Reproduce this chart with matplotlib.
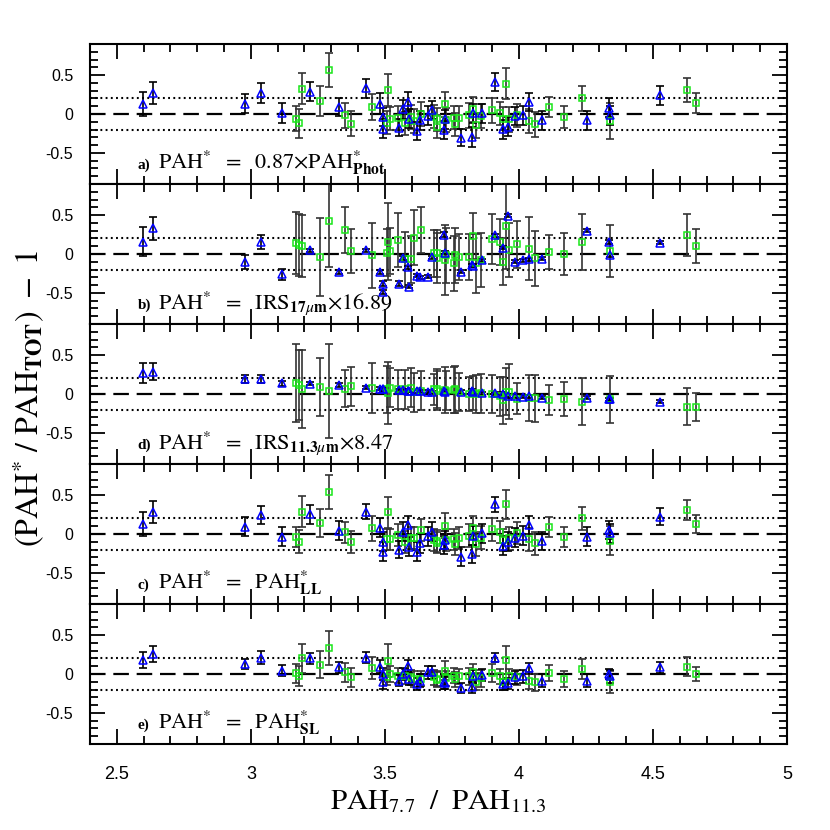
import matplotlib
matplotlib.use("Agg")
import matplotlib.pyplot as plt
import numpy as np
from matplotlib.ticker import MultipleLocator, FixedLocator

plt.rcParams['mathtext.fontset'] = 'stix'
plt.rcParams['font.family'] = ['Liberation Sans', 'DejaVu Sans']

# ---------------- data ----------------
blue_x = [2.599, 2.634, 2.980, 3.037, 3.115, 3.221, 3.327, 3.430, 3.480, 3.492,
          3.494, 3.554, 3.567, 3.585, 3.590, 3.619, 3.631, 3.662, 3.677, 3.721,
          3.725, 3.783, 3.824, 3.828, 3.861, 3.911, 3.940, 3.961, 3.986, 4.014,
          4.039, 4.085, 4.253, 4.337, 4.340, 4.527]
green_x = [3.168, 3.178, 3.192, 3.257, 3.292, 3.351, 3.374, 3.451, 3.507, 3.513,
           3.520, 3.550, 3.575, 3.597, 3.608, 3.636, 3.684, 3.693, 3.696, 3.725,
           3.727, 3.756, 3.762, 3.778, 3.815, 3.827, 3.841, 3.858, 3.899, 3.928,
           3.940, 3.952, 3.964, 3.994, 4.039, 4.060, 4.113, 4.169, 4.236, 4.340,
           4.626, 4.661]

# panel a
a_blue = [0.134, 0.266, 0.134, 0.266, 0.01, 0.288, 0.09, 0.33, 0.134, -0.04,
          -0.19, -0.175, 0.06, 0.16, -0.06, -0.22, -0.08, -0.02, 0.05, -0.205,
          -0.068, -0.304, -0.291, 0.009, 0.009, 0.411, -0.197, -0.163, -0.026, -0.017,
          0.154, -0.081, -0.081, 0.081, -0.017, 0.24]
a_blue_err = [0.155, 0.14, 0.12, 0.13, 0.125, 0.12, 0.12, 0.12, 0.13, 0.12,
              0.12, 0.11, 0.12, 0.12, 0.12, 0.12, 0.12, 0.12, 0.12, 0.12,
              0.12, 0.11, 0.13, 0.12, 0.12, 0.11, 0.12, 0.12, 0.12, 0.12,
              0.12, 0.12, 0.12, 0.12, 0.12, 0.12]
a_green = [-0.06, -0.12, 0.326, 0.167, 0.566, -0.017, -0.124, 0.09, -0.11, 0.31,
           -0.06, -0.05, -0.12, -0.04, -0.09, 0.0, -0.034, -0.068, -0.163, 0.124,
           -0.077, -0.047, -0.133, -0.047, -0.017, 0.06, -0.145, -0.026, 0.047, 0.009,
           -0.06, 0.39, -0.068, -0.017, -0.09, -0.133, 0.094, -0.034, 0.202, -0.094,
           0.309, 0.137]
a_green_err = [0.16, 0.19, 0.2, 0.19, 0.22, 0.16, 0.16, 0.17, 0.15, 0.21,
               0.15, 0.15, 0.15, 0.15, 0.15, 0.15, 0.15, 0.15, 0.15, 0.16,
               0.15, 0.15, 0.15, 0.15, 0.16, 0.16, 0.16, 0.16, 0.16, 0.15,
               0.15, 0.2, 0.16, 0.15, 0.16, 0.16, 0.13, 0.14, 0.16, 0.23,
               0.15, 0.13]

# panel b
b_blue = [0.159, 0.33, -0.10, 0.154, -0.26, 0.047, -0.23, 0.05, -0.23, -0.38,
          -0.49, -0.38, -0.05, -0.17, -0.42, -0.28, -0.30, -0.29, -0.04, 0.25,
          0.017, -0.227, -0.146, -0.15, -0.08, 0.24, 0.08, 0.49, -0.10, -0.08,
          -0.07, -0.06, 0.30, 0.154, -0.017, 0.146]
b_blue_err = [0.19, 0.145, 0.09, 0.085, 0.07, 0.02, 0.03, 0.02, 0.03, 0.03,
              0.03, 0.03, 0.03, 0.02, 0.02, 0.02, 0.02, 0.02, 0.02, 0.03,
              0.02, 0.02, 0.02, 0.02, 0.02, 0.02, 0.02, 0.02, 0.02, 0.02,
              0.02, 0.02, 0.02, 0.02, 0.02, 0.02]
b_green = [0.146, 0.116, 0.10, -0.04, 0.43, 0.31, 0.04, -0.017, 0.017, 0.16,
           0.04, 0.18, -0.07, -0.07, 0.21, 0.31, 0.01, -0.056, 0.01, -0.077,
           -0.017, -0.12, -0.017, -0.04, -0.04, 0.23, -0.12, -0.08, 0.19, 0.154,
           -0.10, 0.36, 0.05, 0.124, 0.07, -0.056, 0.026, -0.004, 0.154, 0.04,
           0.244, 0.10]
b_green_err = [0.4, 0.4, 0.4, 0.5, 0.6, 0.3, 0.28, 0.42, 0.3, 0.5,
               0.3, 0.35, 0.35, 0.3, 0.35, 0.3, 0.3, 0.32, 0.3, 0.45,
               0.35, 0.35, 0.35, 0.3, 0.3, 0.3, 0.38, 0.35, 0.32, 0.3,
               0.3, 0.55, 0.35, 0.3, 0.4, 0.35, 0.22, 0.27, 0.36, 0.33,
               0.27, 0.22]

# panel d
d_blue = [0.266, 0.287, 0.19, 0.19, 0.137, 0.13, 0.116, 0.08, 0.07, 0.065,
          0.06, 0.05, 0.05, 0.045, 0.04, 0.035, 0.035, 0.03, 0.025, 0.04,
          0.026, 0.026, 0.04, 0.02, 0.01, 0.01, 0.0, -0.026, -0.026, -0.034,
          -0.03, -0.047, -0.047, -0.07, -0.065, -0.10]
d_blue_err = [0.13, 0.11, 0.05, 0.05, 0.03, 0.02, 0.02, 0.02, 0.02, 0.02,
              0.02, 0.02, 0.02, 0.02, 0.02, 0.02, 0.02, 0.02, 0.02, 0.02,
              0.02, 0.02, 0.02, 0.02, 0.02, 0.02, 0.02, 0.02, 0.02, 0.02,
              0.02, 0.02, 0.02, 0.02, 0.02, 0.02]
d_green = [0.137, 0.11, 0.06, 0.09, 0.04, 0.07, 0.10, 0.08, 0.06, 0.01,
           0.08, 0.06, 0.06, 0.08, 0.02, 0.04, 0.06, 0.07, 0.04, 0.05,
           0.04, 0.05, 0.06, 0.026, 0.0, 0.01, 0.0, 0.01, 0.0, -0.03,
           -0.08, 0.03, 0.03, -0.06, -0.05, -0.056, -0.077, -0.06, -0.10, -0.07,
           -0.163, -0.163]
d_green_err = [0.5, 0.45, 0.5, 0.37, 0.6, 0.24, 0.25, 0.32, 0.3, 0.4,
               0.25, 0.25, 0.25, 0.25, 0.25, 0.25, 0.2, 0.25, 0.25, 0.3,
               0.25, 0.3, 0.3, 0.25, 0.22, 0.22, 0.25, 0.25, 0.25, 0.25,
               0.3, 0.3, 0.35, 0.2, 0.3, 0.3, 0.19, 0.22, 0.3, 0.3,
               0.24, 0.18]

# panel c
c_blue = [0.129, 0.28, 0.094, 0.244, -0.034, 0.253, 0.043, 0.287, 0.08, -0.10,
          -0.227, -0.20, 0.03, 0.116, -0.163, -0.227, -0.12, -0.03, 0.03, -0.14,
          -0.077, -0.29, -0.257, -0.02, 0.01, 0.38, -0.15, -0.10, -0.047, -0.02,
          0.116, -0.09, -0.034, 0.05, 0.01, 0.22]
c_blue_err = [0.16, 0.14, 0.12, 0.12, 0.12, 0.12, 0.12, 0.1, 0.12, 0.12,
              0.12, 0.11, 0.12, 0.12, 0.12, 0.12, 0.12, 0.12, 0.12, 0.12,
              0.12, 0.12, 0.12, 0.12, 0.12, 0.1, 0.12, 0.12, 0.12, 0.12,
              0.12, 0.12, 0.12, 0.12, 0.12, 0.11]
c_green = [-0.034, -0.10, 0.287, 0.137, 0.544, 0.02, -0.10, 0.073, -0.07, 0.28,
           -0.07, -0.01, -0.10, -0.056, -0.047, 0.05, -0.077, -0.09, -0.11, 0.107,
           -0.077, -0.07, -0.13, -0.056, -0.02, 0.08, -0.13, -0.047, 0.06, 0.03,
           -0.077, 0.38, -0.056, 0.01, -0.07, -0.12, 0.086, -0.034, 0.2, -0.086,
           0.31, 0.129]
c_green_err = [0.13, 0.15, 0.2, 0.18, 0.22, 0.14, 0.14, 0.16, 0.14, 0.2,
               0.14, 0.14, 0.14, 0.14, 0.14, 0.14, 0.14, 0.14, 0.14, 0.16,
               0.14, 0.14, 0.14, 0.14, 0.15, 0.15, 0.15, 0.15, 0.15, 0.14,
               0.14, 0.19, 0.15, 0.14, 0.15, 0.15, 0.13, 0.13, 0.15, 0.19,
               0.13, 0.12]

# panel e
e_blue = [0.18, 0.257, 0.129, 0.21, 0.043, 0.2, 0.086, 0.21, 0.094, 0.0,
          -0.107, -0.086, 0.0, 0.1, -0.064, -0.13, -0.086, 0.02, 0.02, -0.107,
          -0.116, -0.18, -0.17, -0.03, -0.013, 0.21, -0.13, -0.12, -0.043, -0.03,
          0.073, -0.086, -0.086, 0.0, -0.03, 0.086]
e_blue_err = [0.1, 0.1, 0.07, 0.08, 0.07, 0.07, 0.07, 0.07, 0.08, 0.08,
              0.08, 0.07, 0.08, 0.08, 0.08, 0.08, 0.08, 0.08, 0.08, 0.08,
              0.08, 0.07, 0.07, 0.08, 0.08, 0.06, 0.07, 0.07, 0.08, 0.08,
              0.07, 0.08, 0.08, 0.07, 0.08, 0.07]
e_green = [0.01, -0.03, 0.2, 0.12, 0.33, 0.02, -0.043, 0.073, -0.043, 0.17,
           0.0, -0.02, -0.03, -0.043, -0.064, -0.06, -0.043, -0.073, -0.06, 0.043,
           -0.056, -0.02, -0.07, -0.03, -0.03, 0.02, -0.1, -0.056, 0.013, -0.03,
           -0.1, 0.18, -0.03, -0.043, -0.086, -0.107, 0.01, -0.064, 0.064, -0.1,
           0.094, 0.0]
e_green_err = [0.12, 0.13, 0.19, 0.17, 0.22, 0.12, 0.12, 0.14, 0.1, 0.21,
               0.1, 0.1, 0.1, 0.1, 0.1, 0.1, 0.1, 0.1, 0.1, 0.12,
               0.1, 0.1, 0.1, 0.1, 0.11, 0.11, 0.11, 0.11, 0.11, 0.1,
               0.1, 0.18, 0.1, 0.1, 0.11, 0.11, 0.1, 0.1, 0.13, 0.14,
               0.12, 0.09]

panel_letters = ['a)', 'b)', 'd)', 'c)', 'e)']
panel_formulas = [
    r'$\mathrm{PAH}^{*}\ \ =\ \ 0.87{\times}\mathrm{PAH}^{*}_{\mathbf{Phot}}$',
    r'$\mathrm{PAH}^{*}\ \ =\ \ \mathrm{IRS}_{\mathbf{17}\mu\mathbf{m}}{\times}16.89$',
    r'$\mathrm{PAH}^{*}\ \ =\ \ \mathrm{IRS}_{\mathbf{11.3}\mu\mathbf{m}}{\times}8.47$',
    r'$\mathrm{PAH}^{*}\ \ =\ \ \mathrm{PAH}^{*}_{\mathbf{LL}}$',
    r'$\mathrm{PAH}^{*}\ \ =\ \ \mathrm{PAH}^{*}_{\mathbf{SL}}$',
]
panels = [
    (a_blue, a_blue_err, a_green, a_green_err),
    (b_blue, b_blue_err, b_green, b_green_err),
    (d_blue, d_blue_err, d_green, d_green_err),
    (c_blue, c_blue_err, c_green, c_green_err),
    (e_blue, e_blue_err, e_green, e_green_err),
]
ytick_vals = [-0.5, 0, 0.5]
ytick_labels = ['-0.5', '0', '0.5']
xtick_vals = [2.5, 3, 3.5, 4, 4.5, 5]
xtick_labels = ['2.5', '3', '3.5', '4', '4.5', '5']

# ---------------- figure ----------------
W = 830.0
fig = plt.figure(figsize=(8.3, 8.3), dpi=100)
left_px, right_px, top_px, ph = 90, 787, 44, 140

BLUE = '#0000ff'
GREEN = '#19e619'

for i, (by, be, gy, ge) in enumerate(panels):
    y0 = 1 - (top_px + ph * (i + 1)) / W
    ax = fig.add_axes([left_px / W, y0, (right_px - left_px) / W, ph / W])
    ax.set_xlim(2.4, 5.0)
    ax.set_ylim(-0.9, 0.9)

    ax.axhline(0, color='black', lw=1.6, dashes=(7, 3.5), zorder=1)
    for v in (0.2, -0.2):
        ax.axhline(v, color='black', lw=1.5, dashes=(0.9, 1.6), zorder=1)

    ax.errorbar(green_x, gy, yerr=ge, fmt='none', ecolor='#333333',
                elinewidth=1.2, capsize=3, capthick=1.2, zorder=2)
    ax.errorbar(blue_x, by, yerr=be, fmt='none', ecolor='black',
                elinewidth=1.2, capsize=3, capthick=1.2, zorder=3)
    ax.plot(green_x, gy, ls='none', marker='s', ms=5, mfc='none',
            mec=GREEN, mew=1.1, zorder=4)
    ax.plot(blue_x, by, ls='none', marker='^', ms=5.5, mfc='none',
            mec=BLUE, mew=1.1, zorder=5)

    ax.xaxis.set_major_locator(FixedLocator(xtick_vals))
    ax.xaxis.set_minor_locator(MultipleLocator(0.1))
    ax.yaxis.set_major_locator(FixedLocator(ytick_vals))
    ax.yaxis.set_minor_locator(MultipleLocator(0.1))
    ax.tick_params(which='both', direction='in', top=True, right=True,
                   width=1.3)
    ax.tick_params(which='major', length=11)
    ax.tick_params(which='minor', length=6)
    ax.set_yticklabels(ytick_labels)
    ax.tick_params(axis='y', labelsize=11.5, pad=12)
    if i == len(panels) - 1:
        ax.set_xticklabels(xtick_labels)
        ax.tick_params(axis='x', labelsize=13, pad=16)
    else:
        ax.tick_params(axis='x', labelbottom=False)
    for s in ax.spines.values():
        s.set_linewidth(1.5)

    ax.text(2.578, -0.71, panel_letters[i], fontsize=11, fontweight='bold',
            family='Liberation Serif', va='baseline', ha='left')
    ax.text(2.652, -0.71, panel_formulas[i], fontsize=16, va='baseline',
            ha='left')

fig.text(0.035, 0.52, r'$(\mathrm{PAH}^{*}\ /\ \mathrm{PAH}_{\mathbf{TOT}})\ -\ 1$',
         rotation=90, fontsize=23, ha='center', va='center')
fig.text(0.528, 0.035, r'$\mathrm{PAH}_{7.7}\ \ /\ \ \mathrm{PAH}_{11.3}$',
         fontsize=21, ha='center', va='center')

fig.savefig('out.png', dpi=100)
